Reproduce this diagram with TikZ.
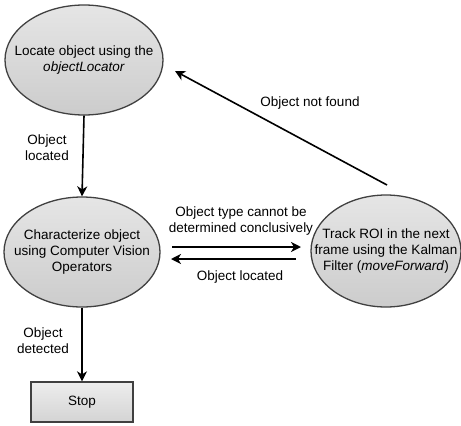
\documentclass[tikz,border=0pt]{standalone}
\usepackage{fontspec}
\setmainfont{Liberation Sans}
\usepackage{tikz}
\usetikzlibrary{calc, positioning, shapes.geometric, arrows.meta}

\begin{document}
\begin{tikzpicture}[x=1pt,y=-1pt,-,auto,
                    thick,
                    state node/.style={ellipse,draw=black!75,line width=1.3pt,top color=black!10,bottom color=black!20,
                      font=\fontsize{13.5}{16}\selectfont,align=center,inner sep=-40pt},
                    stop node/.style={rectangle,draw=black!75,line width=1.3pt,top color=black!7,bottom color=black!17,
                      font=\fontsize{13.5}{16}\selectfont,minimum width=102pt,minimum height=40pt},
                    edge label/.style={font=\fontsize{13.5}{16}\selectfont,align=center},
                    flow/.style={-{Stealth[length=10pt,width=10pt,inset=3pt]},line width=1.6pt}]
 \useasboundingbox (0,0) rectangle (461,426);

 \node[state node,minimum width=158pt,minimum height=110pt] (Locate) at (84,60)
   {Locate object using the\\\textit{objectLocator}};
 \node[state node,minimum width=156pt,minimum height=110pt] (Characterize) at (82,252)
   {Characterize object\\using Computer Vision\\Operators};
 \node[state node,minimum width=150pt,minimum height=112pt] (Track) at (386,251)
   {Track ROI in the next\\frame using the Kalman\\Filter (\textit{moveForward})};
 \node[stop node] (Stop) at (82,402) {Stop};

 \coordinate (TrackTop) at (387,185);
 \coordinate (LocateEnd) at (175,71);
 \coordinate (ForwardStart) at (172,247);
 \coordinate (ForwardEnd) at (301,247);
 \coordinate (BackStart) at (296,259);
 \coordinate (BackEnd) at (171,259);

\draw[flow] (Locate.south) -- (Characterize.north);
\draw[flow] (ForwardStart) -- (ForwardEnd);
\draw[flow] (BackStart) -- (BackEnd);
\draw[flow] (Characterize.south) -- (Stop.north);
\draw[flow] (TrackTop) -- (LocateEnd);

\node[edge label] (LocatedLabel) at (47,148) {Object\\located};
\node[edge label] (TypeLabel) at (241,221) {Object type cannot be\\determined conclusively};
\node[edge label] (BackLabel) at (240,277) {Object located};
\node[edge label] (NotFoundLabel) at (310,103) {Object not found};
\node[edge label] (DetectedLabel) at (43,341) {Object\\detected};

\end{tikzpicture}
\end{document}
